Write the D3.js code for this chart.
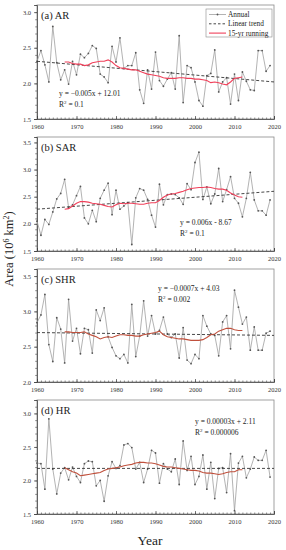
<!DOCTYPE html>
<html>
<head>
<meta charset="utf-8">
<script src="https://cdn.jsdelivr.net/npm/d3@7"></script>
<style>
  body { margin: 0; background: #fff; }
  text { font-family: "Liberation Serif", "DejaVu Serif", serif; }
</style>
</head>
<body>
<div id="chart-area"></div>
<script>
// years 1960-2019 for annual values, 1967-2012 for the 15-yr running mean
const years = d3.range(1960, 2020);
const runYears = d3.range(1967, 2013);
const xTicks = [1960, 1970, 1980, 1990, 2000, 2010, 2020];

const arAnnual = [2.31, 2.46, 2.26, 2.02, 2.80, 2.29, 2.05, 2.19, 1.99, 2.31,
  2.12, 2.41, 2.36, 2.42, 2.53, 2.49, 2.13, 2.09, 2.01, 2.52,
  2.30, 2.64, 2.21, 2.25, 2.25, 2.43, 1.91, 1.72, 2.19, 1.92,
  2.44, 2.04, 1.96, 2.06, 2.15, 1.92, 2.67, 1.73, 2.25, 2.22,
  2.02, 1.76, 1.68, 2.11, 2.14, 2.47, 1.88, 2.02, 2.08, 1.71,
  2.13, 1.76, 2.16, 2.03, 1.91, 1.90, 2.46, 2.46, 2.17, 2.25];
const arRunning = [2.30, 2.30, 2.28, 2.27, 2.27, 2.25, 2.26, 2.29, 2.30, 2.31,
  2.31, 2.33, 2.30, 2.25, 2.22, 2.21, 2.20, 2.19, 2.19, 2.17,
  2.15, 2.13, 2.12, 2.11, 2.10, 2.08, 2.07, 2.07, 2.07, 2.08,
  2.08, 2.07, 2.07, 2.06, 2.06, 2.05, 2.04, 2.01, 2.02, 2.01,
  1.99, 1.98, 2.02, 2.07, 2.08, 2.09];
const arTrend = [2.31, 2.02];

const sarAnnual = [2.05, 1.79, 2.08, 1.99, 2.22, 2.46, 2.56, 2.82, 2.30, 2.35,
  2.52, 2.69, 2.11, 2.00, 2.25, 2.04, 2.47, 2.62, 2.75, 2.17,
  2.62, 2.27, 2.33, 2.39, 1.62, 2.48, 2.65, 2.62, 2.45, 2.16,
  1.94, 2.73, 2.35, 2.54, 2.55, 2.54, 2.48, 2.36, 2.74, 2.63,
  3.13, 3.32, 2.45, 2.68, 2.37, 2.55, 3.02, 2.41, 2.63, 2.87,
  2.47, 2.38, 2.13, 2.47, 2.95, 2.44, 2.24, 2.24, 2.16, 2.44];
const sarRunning = [2.27, 2.28, 2.33, 2.38, 2.41, 2.41, 2.40, 2.38, 2.37, 2.36,
  2.34, 2.32, 2.31, 2.35, 2.38, 2.37, 2.38, 2.38, 2.37, 2.36,
  2.36, 2.38, 2.39, 2.39, 2.43, 2.49, 2.53, 2.55, 2.56, 2.58,
  2.60, 2.63, 2.65, 2.66, 2.67, 2.67, 2.68, 2.67, 2.65, 2.64,
  2.64, 2.62, 2.57, 2.53, 2.50, 2.49];
const sarTrend = [2.27, 2.60];

const shrAnnual = [2.84, 2.95, 3.24, 2.53, 2.29, 2.91, 2.75, 2.27, 3.17, 2.58,
  2.76, 2.40, 2.76, 2.74, 2.41, 3.02, 2.87, 3.05, 2.64, 2.49,
  2.37, 2.33, 2.39, 2.27, 3.10, 2.36, 2.65, 3.15, 2.65, 2.94,
  2.68, 2.73, 2.92, 2.68, 2.63, 2.68, 2.34, 2.77, 2.31, 2.26,
  2.39, 2.33, 2.94, 2.79, 2.68, 2.66, 2.37, 2.85, 2.94, 2.47,
  3.30, 3.06, 2.82, 2.92, 2.45, 2.78, 2.45, 2.45, 2.69, 2.72];
const shrRunning = [2.71, 2.71, 2.70, 2.70, 2.70, 2.71, 2.68, 2.66, 2.64, 2.61,
  2.63, 2.64, 2.63, 2.65, 2.67, 2.67, 2.66, 2.66, 2.65, 2.65,
  2.67, 2.68, 2.69, 2.70, 2.72, 2.67, 2.64, 2.63, 2.62, 2.61,
  2.61, 2.60, 2.59, 2.59, 2.59, 2.60, 2.63, 2.67, 2.68, 2.72,
  2.74, 2.76, 2.76, 2.74, 2.73, 2.73];
const shrTrend = [2.70, 2.66];

const hrAnnual = [2.26, 2.25, 1.87, 2.92, 2.17, 1.80, 2.11, 2.19, 2.01, 2.20,
  2.06, 1.97, 2.25, 2.29, 2.28, 1.92, 2.00, 1.69, 2.07, 2.28,
  2.18, 2.22, 2.53, 2.55, 2.49, 2.17, 2.27, 1.97, 2.17, 2.45,
  2.41, 1.96, 2.25, 2.17, 2.13, 2.32, 1.94, 2.59, 2.15, 2.36,
  1.94, 2.06, 2.38, 1.87, 2.27, 1.73, 2.18, 2.19, 1.82, 2.40,
  1.55, 2.26, 2.36, 2.04, 2.17, 2.35, 2.30, 2.30, 2.45, 2.05];
const hrRunning = [2.19, 2.16, 2.13, 2.11, 2.07, 2.08, 2.09, 2.10, 2.11, 2.12,
  2.15, 2.17, 2.18, 2.19, 2.20, 2.22, 2.23, 2.24, 2.26, 2.27,
  2.27, 2.26, 2.26, 2.25, 2.23, 2.21, 2.20, 2.20, 2.19, 2.18,
  2.17, 2.16, 2.15, 2.15, 2.14, 2.12, 2.11, 2.11, 2.10, 2.09,
  2.10, 2.12, 2.13, 2.13, 2.16, 2.16];
const hrTrend = [2.18, 2.18];

const panels = [
  { label: "(a) AR", annual: arAnnual, running: arRunning, trend: arTrend,
    domain: [1.5, 3.1], ticks: [1.5, 2.0, 2.5, 3.0], top: 5, bottom: 119,
    eq: ["y = \u22120.005x + 12.01", "0.1"], eqX: 59, eqY: 96, runColor: "#f0405a" },
  { label: "(b) SAR", annual: sarAnnual, running: sarRunning, trend: sarTrend,
    domain: [1.5, 3.6], ticks: [1.5, 2.0, 2.5, 3.0, 3.5], top: 137, bottom: 251,
    eq: ["y = 0.006x - 8.67", "0.1"], eqX: 180, eqY: 225, runColor: "#f0405a" },
  { label: "(c) SHR", annual: shrAnnual, running: shrRunning, trend: shrTrend,
    domain: [2.0, 3.6], ticks: [2.0, 2.5, 3.0, 3.5], top: 269, bottom: 382,
    eq: ["y = \u22120.0007x + 4.03", "0.002"], eqX: 158, eqY: 291, runColor: "#c0503c" },
  { label: "(d) HR", annual: hrAnnual, running: hrRunning, trend: hrTrend,
    domain: [1.5, 3.2], ticks: [1.5, 2.0, 2.5, 3.0], top: 400, bottom: 514,
    eq: ["y = 0.00003x + 2.11", "0.000006"], eqX: 195, eqY: 424, runColor: "#c0503c" }
];

const width = 286, height = 550;
const left = 37, right = 274;

const svg = d3.select("#chart-area")
  .append("svg")
    .attr("width", width)
    .attr("height", height);

const x = d3.scaleLinear().domain([1960, 2020]).range([left, right]);

panels.forEach((p, i) => {
  const y = d3.scaleLinear().domain(p.domain).range([p.bottom, p.top]);
  const g = svg.append("g");

  // frame
  g.append("rect")
    .attr("x", left).attr("y", p.top)
    .attr("width", right - left).attr("height", p.bottom - p.top)
    .attr("fill", "none").attr("stroke", "#8a8a8a").attr("stroke-width", 0.8);

  // x axis: inward ticks, minor every year
  g.append("g")
    .attr("transform", `translate(0, ${p.bottom})`)
    .call(d3.axisBottom(x).tickValues(d3.range(1960, 2021)).tickSize(-1.5).tickFormat(""))
    .call(a => a.select(".domain").remove())
    .selectAll("line").attr("stroke", "#444").attr("stroke-width", 0.6);
  const xa = g.append("g")
    .attr("transform", `translate(0, ${p.bottom})`)
    .call(d3.axisBottom(x).tickValues(xTicks).tickSize(-3).tickPadding(5).tickFormat(d3.format("d")));
  xa.select(".domain").attr("stroke", "#444").attr("stroke-width", 0.8);
  xa.selectAll("line").attr("stroke", "#444").attr("stroke-width", 0.7);
  xa.selectAll("text").attr("font-size", "6.5px").attr("fill", "#333")
    .attr("font-family", "Liberation Serif, serif");

  // y axis: outward ticks, minor every 0.1
  const minor = d3.range(p.domain[0], p.domain[1] + 0.001, 0.1);
  g.append("g")
    .attr("transform", `translate(${left}, 0)`)
    .call(d3.axisLeft(y).tickValues(minor).tickSize(1.8).tickFormat(""))
    .call(a => a.select(".domain").remove())
    .selectAll("line").attr("stroke", "#444").attr("stroke-width", 0.6);
  const ya = g.append("g")
    .attr("transform", `translate(${left}, 0)`)
    .call(d3.axisLeft(y).tickValues(p.ticks).tickSize(3).tickPadding(3).tickFormat(d3.format(".1f")));
  ya.select(".domain").attr("stroke", "#444").attr("stroke-width", 0.8);
  ya.selectAll("line").attr("stroke", "#444").attr("stroke-width", 0.7);
  ya.selectAll("text").attr("font-size", "6.5px").attr("fill", "#333")
    .attr("font-family", "Liberation Serif, serif");

  // annual series
  const line = d3.line().x((d, k) => x(years[k])).y(d => y(d));
  g.append("path")
    .datum(p.annual)
    .attr("d", line)
    .attr("fill", "none").attr("stroke", "#a0a0a0").attr("stroke-width", 0.8);
  g.selectAll(".pt")
    .data(p.annual)
    .enter()
    .append("circle")
      .attr("cx", (d, k) => x(years[k]))
      .attr("cy", d => y(d))
      .attr("r", 0.9)
      .attr("fill", "#555");

  // linear trend
  g.append("path")
    .datum(p.trend)
    .attr("d", d3.line().x((d, k) => x(k === 0 ? 1960 : 2020)).y(d => y(d)))
    .attr("fill", "none").attr("stroke", "#333").attr("stroke-width", 0.9)
    .attr("stroke-dasharray", "3,2");

  // 15-yr running
  g.append("path")
    .datum(p.running)
    .attr("d", d3.line().x((d, k) => x(runYears[k])).y(d => y(d)))
    .attr("fill", "none").attr("stroke", p.runColor).attr("stroke-width", 1.1);

  // panel label
  g.append("text")
    .attr("x", left + 4).attr("y", p.top + 14)
    .attr("font-size", "10.5px").attr("fill", "#222")
    .text(p.label);

  // equation
  g.append("text")
    .attr("x", p.eqX).attr("y", p.eqY)
    .attr("font-size", "7.5px").attr("fill", "#222")
    .text(p.eq[0]);
  const r2 = g.append("text")
    .attr("x", p.eqX).attr("y", p.eqY + 10.5)
    .attr("font-size", "7.5px").attr("fill", "#222");
  r2.append("tspan").text("R");
  r2.append("tspan").attr("dy", -3).attr("font-size", "5px").text("2");
  r2.append("tspan").attr("dy", 3).text(" = " + p.eq[1]);
});

// legend (panel a)
const legend = svg.append("g");
legend.append("rect")
  .attr("x", 206).attr("y", 9).attr("width", 66).attr("height", 28)
  .attr("fill", "#fff").attr("stroke", "#8a8a8a").attr("stroke-width", 0.6);
const items = [
  { name: "Annual", color: "#a0a0a0", dash: null, w: 0.8 },
  { name: "Linear trend", color: "#333", dash: "2.5,2", w: 0.9 },
  { name: "15-yr running", color: "#f0405a", dash: null, w: 1.1 }
];
items.forEach((it, k) => {
  const yy = 14.5 + k * 9.3;
  legend.append("line")
    .attr("x1", 209).attr("x2", 226).attr("y1", yy).attr("y2", yy)
    .attr("stroke", it.color).attr("stroke-width", it.w)
    .attr("stroke-dasharray", it.dash);
  if (k === 0) {
    legend.append("circle").attr("cx", 217.5).attr("cy", yy).attr("r", 0.9).attr("fill", "#555");
  }
  legend.append("text")
    .attr("x", 228).attr("y", yy + 2.5)
    .attr("font-size", "7.3px").attr("fill", "#222")
    .text(it.name);
});

// axis titles
const yl = svg.append("text")
  .attr("transform", "translate(13, 249) rotate(-90)")
  .attr("text-anchor", "middle")
  .attr("font-size", "12.5px").attr("fill", "#222");
yl.append("tspan").text("Area (10");
yl.append("tspan").attr("dy", -4).attr("font-size", "8px").text("6");
yl.append("tspan").attr("dy", 4).text(" km");
yl.append("tspan").attr("dy", -4).attr("font-size", "8px").text("2");
yl.append("tspan").attr("dy", 4).text(")");

svg.append("text")
  .attr("x", 150).attr("y", 545)
  .attr("text-anchor", "middle")
  .attr("font-size", "13.5px").attr("fill", "#222")
  .text("Year");
</script>
</body>
</html>
